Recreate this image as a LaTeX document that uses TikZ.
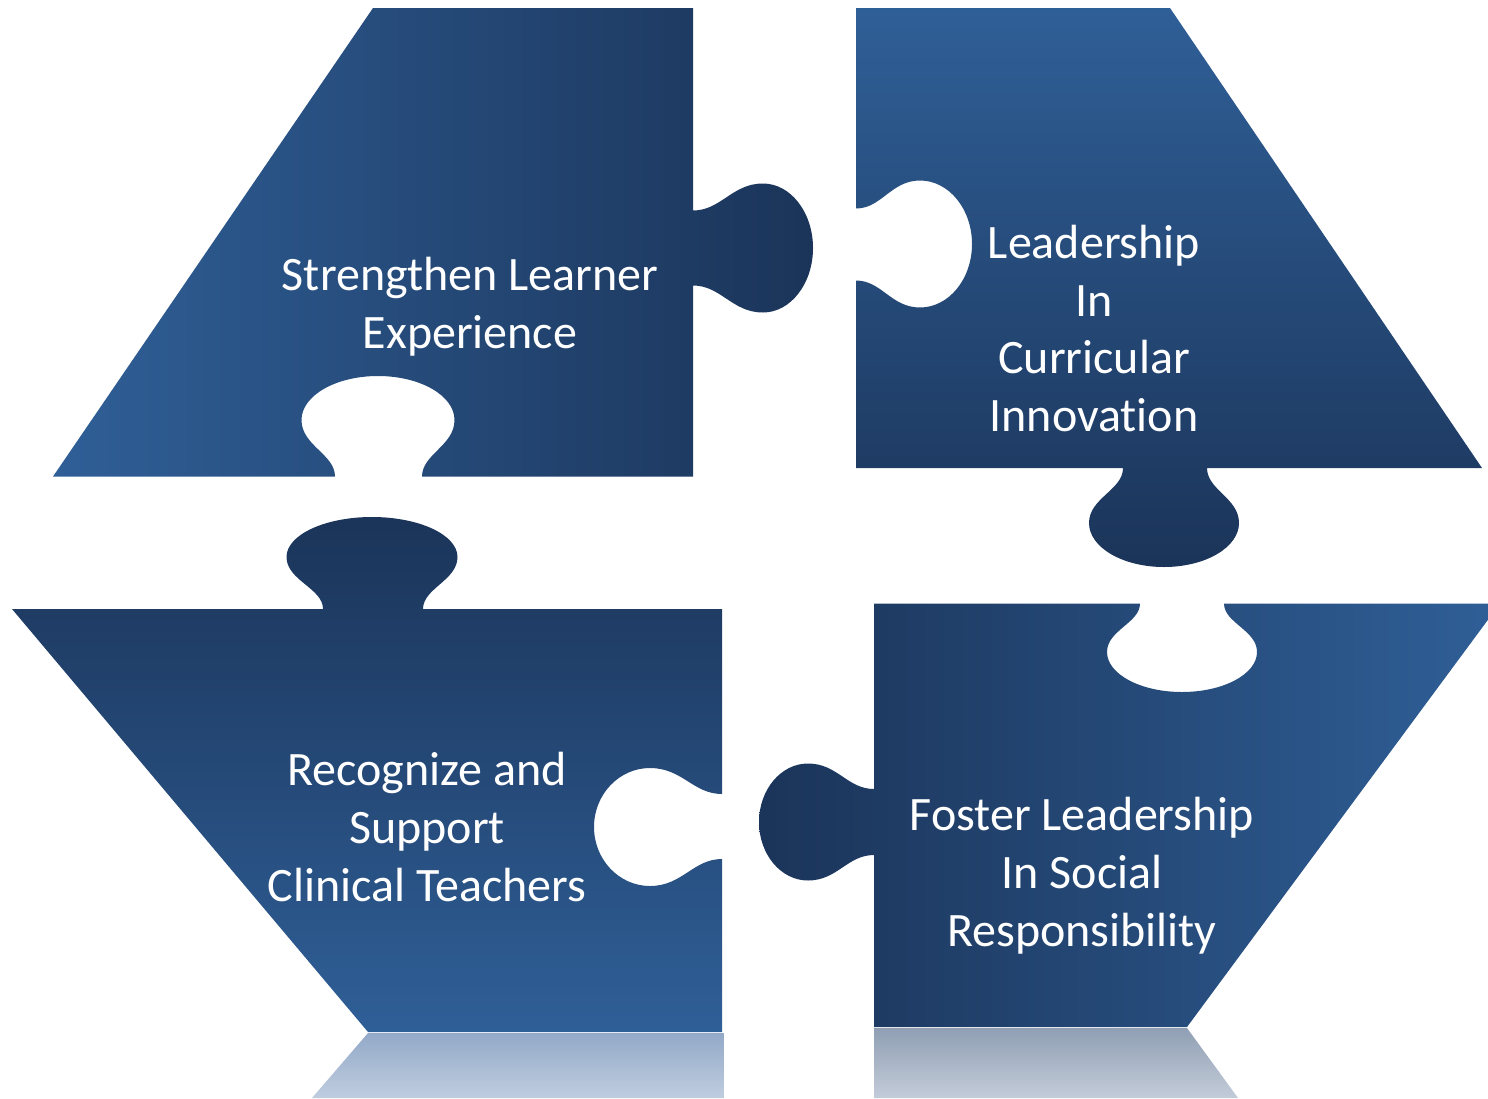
\documentclass[tikz,border=0pt]{standalone}
\usepackage{fontspec}
\setmainfont{Carlito}[Ligatures=NoCommon]
\definecolor{pieceLight}{HTML}{2F5F97}
\definecolor{pieceDark}{HTML}{1B3459}
\definecolor{mirrorTop}{HTML}{93A9C8}
\definecolor{mirrorBottom}{HTML}{BFCDDF}
\definecolor{mirrorGreyTop}{HTML}{909FB4}
\definecolor{mirrorGreyBottom}{HTML}{C3CCD9}
\tikzset{piecetext/.style={text=white, align=center, inner sep=0pt, font=\fontsize{24}{28.9}\selectfont}}

\begin{document}
\begin{tikzpicture}[x=.5pt, y=-.5pt]
	\useasboundingbox (0, 0) rectangle (1488, 1098);
	
	% 左上
	\shade [left color=pieceLight, right color=pieceDark] (373, 8) -- (693, 8) -- (693, 210.5)
		.. controls (721, 210.5) and (732, 183.5) .. (763, 183.5)
		.. controls (790.6, 183.5) and (813, 212.4) .. (813, 248)
		.. controls (813, 283.6) and (790.6, 312.5) .. (763, 312.5)
		.. controls (732, 312.5) and (721, 285.5) .. (693, 285.5)
		-- (693, 476.5) -- (422, 476.5)
		.. controls (422, 454.2) and (454.5, 445.6) .. (454.5, 420)
		.. controls (454.5, 395.7) and (420.3, 376) .. (378, 376)
		.. controls (335.7, 376) and (301.5, 395.7) .. (301.5, 420)
		.. controls (301.5, 445.6) and (335, 454.2) .. (335, 476.5)
		-- (53, 476.5) -- cycle;
	
	% 右上
	\shade [top color=pieceLight, bottom color=pieceDark] (856, 8) -- (1170, 8) -- (1482, 468) -- (1207, 468)
		.. controls (1207, 490) and (1239, 498) .. (1239, 523)
		.. controls (1239, 547.3) and (1205.4, 567) .. (1164, 567)
		.. controls (1122.6, 567) and (1089, 547.3) .. (1089, 523)
		.. controls (1089, 498) and (1123, 490) .. (1123, 468)
		-- (856, 468) -- (856, 280.5)
		.. controls (881.6, 280.5) and (891, 307.5) .. (920, 307.5)
		.. controls (948.7, 307.5) and (972, 279.1) .. (972, 244)
		.. controls (972, 208.9) and (948.7, 180.5) .. (920, 180.5)
		.. controls (891, 180.5) and (881.6, 208.5) .. (856, 208.5)
		-- cycle;
	
	% 左下
	\shade [top color=pieceDark, bottom color=pieceLight] (12, 609) -- (323, 609)
		.. controls (323, 588.2) and (286.5, 580.4) .. (286.5, 557)
		.. controls (286.5, 534.9) and (324.8, 517) .. (372, 517)
		.. controls (419.2, 517) and (457.5, 534.9) .. (457.5, 557)
		.. controls (457.5, 580.4) and (423, 588.2) .. (423, 609)
		-- (722, 609) -- (722, 794)
		.. controls (693.2, 794) and (682.4, 768) .. (650, 768)
		.. controls (619.1, 768) and (594, 794.4) .. (594, 827)
		.. controls (594, 859.6) and (619.1, 886) .. (650, 886)
		.. controls (682.4, 886) and (693.2, 859) .. (722, 859)
		-- (722, 1032) -- (368, 1032) -- cycle;
	
	% 右下
	\shade [left color=pieceDark, right color=pieceLight] (874, 603.5) -- (1140, 603.5)
		.. controls (1140, 622.9) and (1107, 630.2) .. (1107, 652)
		.. controls (1107, 674.1) and (1140.6, 692) .. (1182, 692)
		.. controls (1223.4, 692) and (1257, 674.1) .. (1257, 652)
		.. controls (1257, 630.2) and (1224, 622.9) .. (1224, 603.5)
		-- (1500, 603.5) -- (1187, 1027) -- (874, 1027) -- (874, 855)
		.. controls (847.3, 855) and (837.5, 880.5) .. (808, 880.5)
		.. controls (780.9, 880.5) and (759, 854.3) .. (759, 822)
		.. controls (759, 789.7) and (780.9, 763.5) .. (808, 763.5)
		.. controls (837.5, 763.5) and (847.3, 789) .. (874, 789)
		-- cycle;
	
	% 倒影
	\shade [top color=mirrorTop, bottom color=mirrorBottom] (368, 1033) -- (724, 1033) -- (724, 1098) -- (312, 1098) -- cycle;
	\shade [top color=mirrorGreyTop, bottom color=mirrorGreyBottom] (874, 1028) -- (1187, 1028) -- (1238, 1098) -- (874, 1098) -- cycle;
	
	% 文字
	\node [piecetext] (strengthen) at (470, 306.5) {Strengthen Learner\\Experience};
	\node [piecetext] (leadership) at (1094, 328.5) {Leadership\\In\\Curricular\\Innovation};
	\node [piecetext] (recognize) at (427, 827) {Recognize and\\Support\\Clinical Teachers};
	\node [piecetext] (foster) at (1082, 875.5) {Foster Leadership\\In Social\\Responsibility};
\end{tikzpicture}
\end{document}
